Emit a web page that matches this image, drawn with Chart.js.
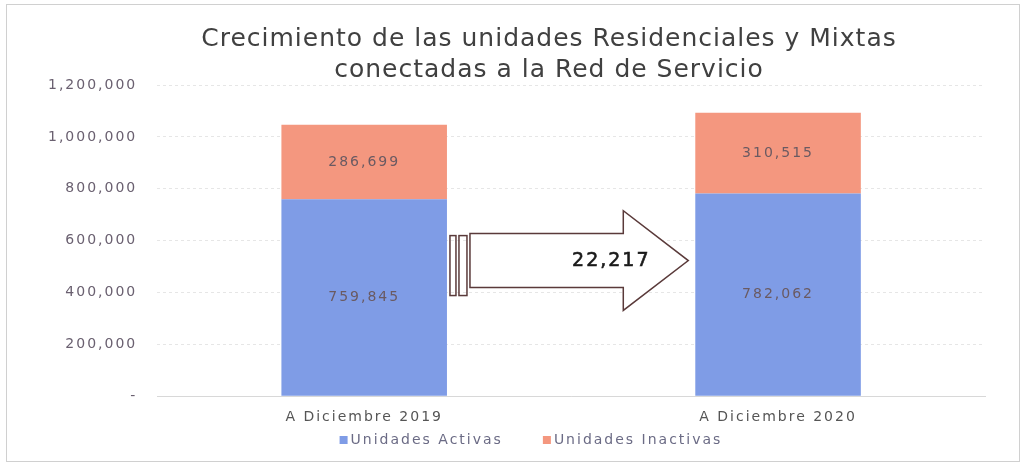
<!DOCTYPE html>
<html>
<head>
<meta charset="utf-8">
<script src="https://cdn.jsdelivr.net/npm/chart.js@4.4.0/dist/chart.umd.min.js"></script>
<style>
  html, body { margin: 0; padding: 0; background: #fff; }
  #wrap { position: absolute; left: 6px; top: 4px; width: 1014px; height: 458px; border: 1px solid #d0d0d0; box-sizing: border-box; }
</style>
</head>
<body>
<div id="wrap"><canvas id="chart" width="1012" height="456"></canvas></div>
<script>
// data
const categories = ['A Diciembre 2019', 'A Diciembre 2020'];
const activas = [759845, 782062];
const inactivas = [286699, 310515];
const seriesNames = ['Unidades Activas', 'Unidades Inactivas'];
const titleLines = ['Crecimiento de las unidades Residenciales y Mixtas', 'conectadas a la Red de Servicio'];

const fmt = v => v.toLocaleString('en-US');
const FONT = '"DejaVu Sans", sans-serif';

// the original text is rendered wide, so open up the letters
const spacing = {
  id: 'spacing',
  beforeUpdate(chart) { chart.ctx.letterSpacing = '2px'; },
  beforeDraw(chart) { chart.ctx.letterSpacing = '2px'; }
};

// two-line title, placed like the original (a bit right of centre)
const titleDraw = {
  id: 'titleDraw',
  afterDraw(chart) {
    const ctx = chart.ctx;
    ctx.save();
    ctx.letterSpacing = '1px';
    ctx.font = '25px ' + FONT;
    ctx.fillStyle = '#404040';
    ctx.textAlign = 'center';
    ctx.textBaseline = 'middle';
    titleLines.forEach((t, i) => ctx.fillText(t, 542, 34 + i * 31));
    ctx.restore();
  }
};

// legend under the axis labels
const legendDraw = {
  id: 'legendDraw',
  afterDraw(chart) {
    const ctx = chart.ctx;
    ctx.save();
    ctx.font = '14px ' + FONT;
    ctx.textBaseline = 'middle';
    const box = 8, gapText = 3, gapItem = 40, cy = 435;
    const items = chart.data.datasets.map(ds => ({ text: ds.label, color: ds.backgroundColor, w: ctx.measureText(ds.label).width }));
    const total = items.reduce((s, it) => s + box + gapText + it.w, 0) + gapItem * (items.length - 1);
    let x = 524 - total / 2;
    items.forEach(it => {
      ctx.fillStyle = it.color;
      ctx.fillRect(x, cy - box / 2, box, box);
      x += box + gapText;
      ctx.fillStyle = '#6b6b85';
      ctx.fillText(it.text, x, cy);
      x += it.w + gapItem;
    });
    ctx.restore();
  }
};

// value labels inside each bar segment
const segmentLabels = {
  id: 'segmentLabels',
  afterDatasetsDraw(chart) {
    const ctx = chart.ctx;
    ctx.save();
    ctx.font = '14px ' + FONT;
    ctx.fillStyle = '#6a5a62';
    ctx.textAlign = 'center';
    ctx.textBaseline = 'middle';
    chart.data.datasets.forEach((ds, i) => {
      chart.getDatasetMeta(i).data.forEach((bar, j) => {
        ctx.fillText(fmt(ds.data[j]), bar.x, (bar.y + bar.base) / 2);
      });
    });
    ctx.restore();
  }
};

// growth arrow between the two bars
const growthArrow = {
  id: 'growthArrow',
  afterDatasetsDraw(chart) {
    const ctx = chart.ctx;
    const y = chart.scales.y;
    const b1 = chart.getDatasetMeta(0).data[0];
    const b2 = chart.getDatasetMeta(0).data[1];
    const x0 = b1.x + b1.width / 2 + 3;
    const x1 = b2.x - b2.width / 2 - 7;
    const shaftTop = y.getPixelForValue(627000);
    const shaftBot = y.getPixelForValue(419000);
    const headTop = y.getPixelForValue(715000);
    const headBot = y.getPixelForValue(331000);
    const mid = (shaftTop + shaftBot) / 2;
    const headX = x1 - 65;
    const sx = x0 + 20;
    ctx.save();
    ctx.strokeStyle = '#5a3a3a';
    ctx.lineWidth = 1.5;
    ctx.fillStyle = '#fff';
    // small bars at the tail
    ctx.strokeRect(x0, shaftTop + 2, 6, shaftBot - shaftTop + 6);
    ctx.strokeRect(x0 + 9, shaftTop + 2, 8, shaftBot - shaftTop + 6);
    ctx.beginPath();
    ctx.moveTo(sx, shaftTop);
    ctx.lineTo(headX, shaftTop);
    ctx.lineTo(headX, headTop);
    ctx.lineTo(x1, mid);
    ctx.lineTo(headX, headBot);
    ctx.lineTo(headX, shaftBot);
    ctx.lineTo(sx, shaftBot);
    ctx.closePath();
    ctx.fill();
    ctx.stroke();
    ctx.fillStyle = '#1a1a1a';
    ctx.strokeStyle = '#1a1a1a';
    ctx.lineWidth = 0.6;
    ctx.font = '19px ' + FONT;
    ctx.textAlign = 'center';
    ctx.textBaseline = 'middle';
    const diff = fmt(activas[1] - activas[0]);
    ctx.fillText(diff, headX - 12, mid);
    ctx.strokeText(diff, headX - 12, mid);
    ctx.restore();
  }
};

new Chart(document.getElementById('chart'), {
  type: 'bar',
  data: {
    labels: categories,
    datasets: [
      { label: seriesNames[0], data: activas, backgroundColor: '#7f9ce6', borderWidth: 0 },
      { label: seriesNames[1], data: inactivas, backgroundColor: '#f4977f', borderWidth: 0 }
    ]
  },
  options: {
    responsive: false,
    animation: false,
    layout: { padding: { left: 21, right: 34, top: 80, bottom: 30 } },
    datasets: { bar: { categoryPercentage: 0.40, barPercentage: 1 } },
    plugins: {
      title: { display: false },
      legend: { display: false },
      tooltip: { enabled: false }
    },
    scales: {
      x: {
        stacked: true,
        grid: { display: false },
        border: { color: '#d8d8d8' },
        ticks: { color: '#555', font: { family: FONT, size: 14 }, padding: 5 }
      },
      y: {
        stacked: true,
        min: 0,
        max: 1200000,
        ticks: {
          stepSize: 200000,
          color: '#6a6070',
          font: { family: FONT, size: 14 },
          padding: 20,
          callback: v => v === 0 ? '-' : fmt(v)
        },
        border: { display: false, dash: [3, 3] },
        grid: { color: '#e6e6e6', tickLength: 0 }
      }
    }
  },
  plugins: [spacing, segmentLabels, growthArrow, titleDraw, legendDraw]
});
</script>
</body>
</html>
